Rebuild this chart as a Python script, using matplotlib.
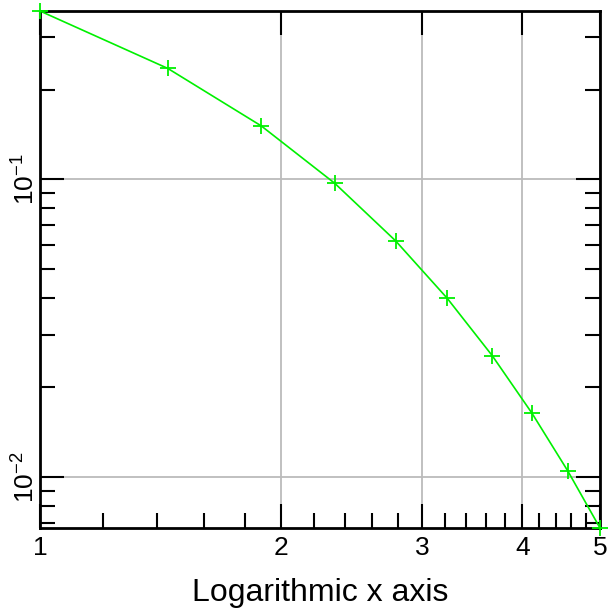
import numpy as np
import matplotlib
matplotlib.use("Agg")
import matplotlib.pyplot as plt
from matplotlib.ticker import FixedLocator, FuncFormatter, LogLocator, NullFormatter

plt.rcParams['font.family'] = ['Liberation Sans', 'DejaVu Sans']
plt.rcParams['mathtext.fontset'] = 'custom'
plt.rcParams['mathtext.rm'] = 'Liberation Sans'
plt.rcParams['mathtext.it'] = 'Liberation Sans'

# data
x_vals = [1.0, 1.444, 1.889, 2.333, 2.778, 3.222, 3.667, 4.111, 4.556, 5.0]
y_vals = [0.3679, 0.2359, 0.1512, 0.0970, 0.0622, 0.0399, 0.0256, 0.0164, 0.0105, 0.00674]
x_major = [1, 2, 3, 4, 5]
x_minor = [1.2, 1.4, 1.6, 1.8, 2.2, 2.4, 2.6, 2.8, 3.2, 3.4, 3.6, 3.8,
           4.2, 4.4, 4.6, 4.8]
y_major = [0.01, 0.1]
x_label = "Logarithmic x axis"

fig = plt.figure(figsize=(6.08, 6.12), dpi=100)
ax = fig.add_axes([40 / 608, 1 - 528 / 612, 560 / 608, 517 / 612])

ax.plot(x_vals, y_vals, color="#00f000", lw=1.2, marker="+", ms=11, mew=1.3,
        clip_on=False, zorder=3)
ax.set_xscale("log")
ax.set_yscale("log")
ax.set_xlim(x_vals[0], x_vals[-1])
ax.set_ylim(y_vals[-1], y_vals[0])

ax.xaxis.set_major_locator(FixedLocator(x_major))
ax.xaxis.set_minor_locator(FixedLocator(x_minor))
ax.xaxis.set_major_formatter(FuncFormatter(lambda v, p: "%d" % round(v)))
ax.xaxis.set_minor_formatter(NullFormatter())
ax.yaxis.set_major_locator(FixedLocator(y_major))
ax.yaxis.set_minor_locator(LogLocator(base=10, subs=np.arange(2, 10)))
ax.yaxis.set_major_formatter(
    FuncFormatter(lambda v, p: r"$10^{%d}$" % round(np.log10(v))))
ax.yaxis.set_minor_formatter(NullFormatter())

ax.grid(True, which="major", color="#bbbbbb", lw=1.3)
ax.set_axisbelow(True)

ax.tick_params(which="both", direction="in", width=1.5, colors="black")
ax.tick_params(which="major", length=17, labelsize=19)
ax.tick_params(axis="x", which="major", pad=6)
ax.tick_params(axis="y", which="major", pad=0)
ax.tick_params(which="minor", length=11)
ax.tick_params(axis="y", which="both", right=True)
ax.tick_params(axis="x", which="major", top=True)
ax.tick_params(axis="y", which="major", labelrotation=90)
for lbl in ax.get_yticklabels():
    lbl.set_va("center")

for s in ax.spines.values():
    s.set_linewidth(2)

fig.text(0.5 * (40 + 600) / 608, 1 - 593 / 612, x_label, fontsize=23,
         ha="center", va="center")

fig.savefig("out.png", dpi=100)
